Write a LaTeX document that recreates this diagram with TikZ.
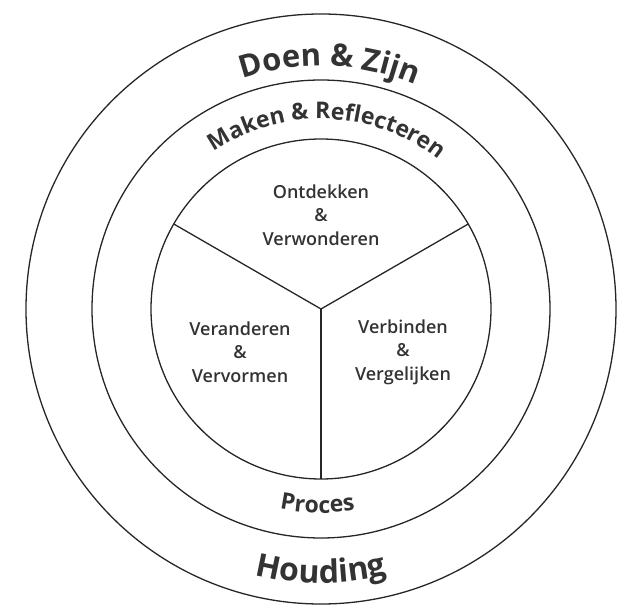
\documentclass[tikz,border=0pt]{standalone}
\usepackage{fontspec}
\setmainfont{Open Sans}
\IfFontExistsTF{Open Sans SemiBold}{\newfontfamily\medfont{Open Sans SemiBold}}{%
  \IfFontExistsTF{Open Sans Semibold}{\newfontfamily\medfont{Open Sans Semibold}}{%
    \newfontfamily\medfont{Open Sans}[FakeBold=2]}}
\usetikzlibrary{decorations.text}
\begin{document}
\begin{tikzpicture}[x=1pt,y=1pt,
  ring/.style={draw=black!85, line width=1.3pt},
  divider/.style={draw=black!85, line width=1.3pt},
  inner/.style={align=center, text=black!80, font=\medfont\fontsize{18}{23.5}\selectfont, inner sep=0pt},
  arctext/.style={decorate, decoration={text along path, text align=center, text color=black!80, text={#1}}}
]
\useasboundingbox (-321,-296) rectangle (298,309);
\coordinate (c) at (0,0);
\draw[ring] (c) circle[radius=295];
\draw[ring] (c) circle[radius=229];
\draw[ring] (c) circle[radius=170];
\coordinate (d1) at (150:170);
\coordinate (d2) at (30:170);
\coordinate (d3) at (270:170);
\draw[divider] (c) -- (d1);
\draw[divider] (c) -- (d2);
\draw[divider] (c) -- (d3);
% inner sectors
\node[inner] (top) at (0,94) {Ontdekken\\\&\\Verwonderen};
\node[inner] (left) at (-81,-43) {Veranderen\\\&\\Vervormen};
\node[inner] (right) at (82,-43) {Verbinden\\\&\\Vergelijken};
% curved texts
\path[arctext={|\fontsize{31}{36}\selectfont\bfseries|Doen {\&} Zijn}] (158:243) arc[start angle=158, end angle=18, radius=243];
\path[arctext={|\fontsize{23}{27}\selectfont\bfseries|Maken {\&} Reflecteren}] (173:190) arc[start angle=173, end angle=3, radius=190];
\path[arctext={|\fontsize{23}{27}\selectfont\bfseries|Proces}] (229:204) arc[start angle=229, end angle=309, radius=204];
\path[arctext={|\fontsize{32}{38}\selectfont\bfseries|Houding}] (205:274) arc[start angle=205, end angle=335, radius=274];
\end{tikzpicture}
\end{document}
